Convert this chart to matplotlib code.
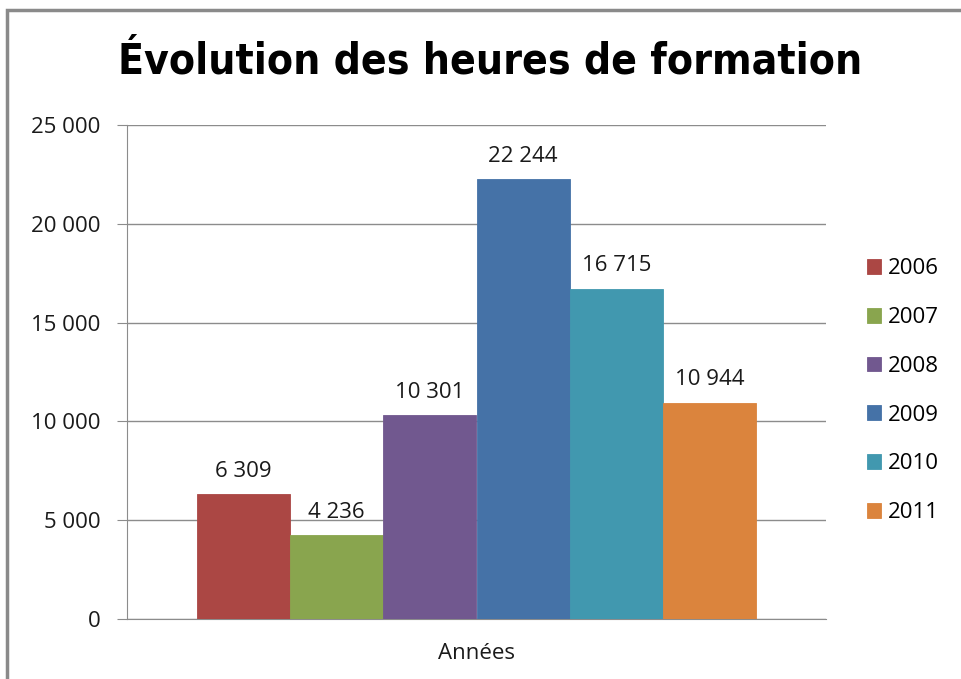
import matplotlib.pyplot as plt
from matplotlib.patches import Rectangle
from matplotlib import font_manager

years = ["2006", "2007", "2008", "2009", "2010", "2011"]
heures = [6309, 4236, 10301, 22244, 16715, 10944]
couleurs = ["#ab4744", "#89a54e", "#71588f", "#4572a7", "#4198af", "#db843d"]
yticks = [0, 5000, 10000, 15000, 20000, 25000]

# look for a narrow bold face for the title
fonts = font_manager.fontManager.ttflist
names = {f.name for f in fonts}
has_dv_cond = any(f.name == "DejaVu Sans" and f.stretch == "condensed" and f.weight in (700, "bold") for f in fonts)
if "Liberation Sans Narrow" in names:
    title_kw = dict(family=["Liberation Sans Narrow", "DejaVu Sans"], fontsize=36)
elif has_dv_cond:
    title_kw = dict(family=["DejaVu Sans"], fontstretch="condensed", fontsize=30.5)
else:
    title_kw = dict(family=["DejaVu Sans"], fontsize=27)

plt.rcParams["font.family"] = ["Open Sans", "DejaVu Sans"]


def fmt(v):
    return f"{v:,}".replace(",", " ")


fig = plt.figure(figsize=(9.61, 6.79), dpi=100)
ax = fig.add_axes([127 / 961, 1 - 619 / 679, (826 - 127) / 961, (619 - 125) / 679])

width = 0.8 / len(years)
for i, (yr, val, col) in enumerate(zip(years, heures, couleurs)):
    x = -0.4 + width * (i + 0.5)
    ax.bar(x, val, width=width, color=col, edgecolor=col, linewidth=0.6,
           label=yr, zorder=3)
    ax.annotate(fmt(val), (x, val), xytext=(0, 9), textcoords="offset points",
                ha="center", va="bottom", fontsize=16, color="#1a1a1a")

ax.set_xlim(-0.5, 0.5)
ax.set_ylim(0, 25000)
ax.set_yticks(yticks)
ax.set_yticklabels([fmt(v) for v in yticks], fontsize=16, color="#1a1a1a")
ax.set_xticks([0])
ax.set_xticklabels(["Années"], fontsize=16, color="#1a1a1a")
ax.tick_params(axis="x", length=0, pad=17)
ax.tick_params(axis="y", length=7, color="#8c8c8c", pad=12)
ax.grid(axis="y", color="#8c8c8c", linewidth=1, zorder=0)
for s in ["top", "right"]:
    ax.spines[s].set_visible(False)
ax.spines["left"].set_color("#8c8c8c")
ax.spines["bottom"].set_color("#8c8c8c")

leg = ax.legend(loc="center left", bbox_to_anchor=(1.03, 0.462), frameon=False,
                fontsize=16, handlelength=0.65, handleheight=0.65,
                handletextpad=0.3, labelspacing=1.25)

fig.text(490 / 961, 1 - 62 / 679, "Évolution des heures de formation",
         ha="center", va="center", fontweight="bold", **title_kw)

fig.patches.append(Rectangle((7 / 961, -0.1), 1.1, 1 - 10 / 679 + 0.1,
                             transform=fig.transFigure, fill=False,
                             edgecolor="#8a8a8a", linewidth=2.5))

fig.savefig("out.png", dpi=100)
